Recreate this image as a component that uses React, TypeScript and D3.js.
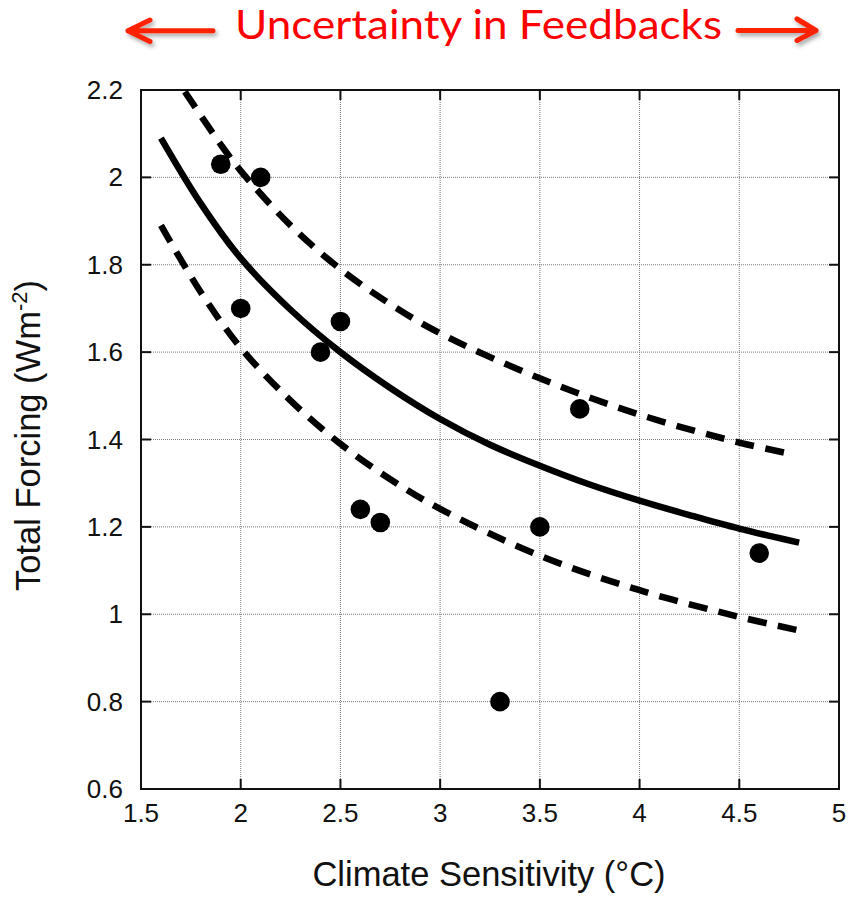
import { useEffect, useRef } from 'react'
import * as d3 from 'd3'

// axis ticks
const xTicks = [1.5, 2, 2.5, 3, 3.5, 4, 4.5, 5]
const yTicks = [0.6, 0.8, 1, 1.2, 1.4, 1.6, 1.8, 2, 2.2]

// model points (climate sensitivity vs total forcing)
const pointSens = [1.9, 2.0, 2.1, 2.4, 2.5, 2.6, 2.7, 3.3, 3.5, 3.7, 4.6]
const pointForcing = [2.03, 1.70, 2.00, 1.60, 1.67, 1.24, 1.21, 0.80, 1.20, 1.47, 1.14]

// central fit curve
const fitSens = [1.6, 1.8, 2.0, 2.25, 2.5, 2.75, 3.0, 3.25, 3.5, 3.75, 4.0, 4.25, 4.5, 4.8]
const fitForcing = [2.09, 1.94, 1.815, 1.697, 1.60, 1.518, 1.447, 1.388, 1.34, 1.297, 1.26, 1.227, 1.196, 1.164]

// upper bound (dashed)
const upperSens = [1.72, 1.9, 2.0, 2.25, 2.5, 2.75, 3.0, 3.5, 4.0, 4.5, 4.76]
const upperForcing = [2.196, 2.075, 2.015, 1.89, 1.79, 1.71, 1.643, 1.54, 1.457, 1.393, 1.367]

// lower bound (dashed)
const lowerSens = [1.6, 1.8, 2.0, 2.25, 2.5, 2.75, 3.0, 3.5, 4.0, 4.5, 4.79]
const lowerForcing = [1.89, 1.737, 1.61, 1.489, 1.39, 1.309, 1.241, 1.134, 1.055, 0.994, 0.964]

const W = 848
const H = 897
const FONT = '"Liberation Sans", Arial, Helvetica, sans-serif'

export default function App() {
  const svgRef = useRef<SVGSVGElement>(null)

  useEffect(() => {
    if (!svgRef.current) return
    const svg = d3.select(svgRef.current)
    svg.selectAll('*').remove()

    const left = 141, right = 839, top = 90, bottom = 789
    const x = d3.scaleLinear().domain([1.5, 5]).range([left, right])
    const y = d3.scaleLinear().domain([0.6, 2.2]).range([bottom, top])

    // shadow for the arrows
    const defs = svg.append('defs')
    const f = defs.append('filter').attr('id', 'shadow').attr('x', '-20%').attr('y', '-50%').attr('width', '140%').attr('height', '200%')
    f.append('feDropShadow').attr('dx', 2).attr('dy', 3).attr('stdDeviation', 2)
      .attr('flood-color', '#000').attr('flood-opacity', 0.35)

    // title + arrows
    svg.append('text')
      .attr('x', 235).attr('y', 38.5)
      .attr('textLength', 487).attr('lengthAdjust', 'spacingAndGlyphs')
      .attr('fill', '#ff0000')
      .attr('font-family', 'Lato, "Open Sans", sans-serif')
      .attr('font-size', 41)
      .text('Uncertainty in Feedbacks')

    const arrowG = svg.append('g')
      .attr('stroke', '#ff2200').attr('stroke-width', 5)
      .attr('stroke-linecap', 'round').attr('stroke-linejoin', 'round')
      .attr('fill', 'none').attr('filter', 'url(#shadow)')
    arrowG.append('path').attr('d', 'M213,30.7 L128,30.7 M150,20 L128,30.7 L150,41.5')
    arrowG.append('path').attr('d', 'M738,30.5 L816,30.5 M797,19 L816,30.5 L797,40.5')

    // grid
    const grid = svg.append('g')
      .attr('stroke', '#7a7a7a').attr('stroke-width', 1).attr('stroke-dasharray', '1,1')
    xTicks.slice(1, -1).forEach(t => {
      grid.append('line').attr('x1', x(t)).attr('x2', x(t)).attr('y1', top).attr('y2', bottom)
    })
    yTicks.slice(1, -1).forEach(t => {
      grid.append('line').attr('x1', left).attr('x2', right).attr('y1', y(t)).attr('y2', y(t))
    })

    // frame + inward ticks
    svg.append('rect')
      .attr('x', left).attr('y', top).attr('width', right - left).attr('height', bottom - top)
      .attr('fill', 'none').attr('stroke', '#111').attr('stroke-width', 2)
    const tk = svg.append('g').attr('stroke', '#111').attr('stroke-width', 2)
    xTicks.forEach(t => {
      tk.append('line').attr('x1', x(t)).attr('x2', x(t)).attr('y1', bottom).attr('y2', bottom - 10)
      tk.append('line').attr('x1', x(t)).attr('x2', x(t)).attr('y1', top).attr('y2', top + 10)
    })
    yTicks.forEach(t => {
      tk.append('line').attr('x1', left).attr('x2', left + 10).attr('y1', y(t)).attr('y2', y(t))
      tk.append('line').attr('x1', right).attr('x2', right - 10).attr('y1', y(t)).attr('y2', y(t))
    })

    // tick labels
    xTicks.forEach(t => {
      svg.append('text')
        .attr('x', x(t)).attr('y', 822)
        .attr('text-anchor', 'middle')
        .attr('font-family', FONT).attr('font-size', 26).attr('fill', '#111')
        .text(String(t))
    })
    yTicks.forEach(t => {
      svg.append('text')
        .attr('x', 123).attr('y', y(t) + 9)
        .attr('text-anchor', 'end')
        .attr('font-family', FONT).attr('font-size', 26).attr('fill', '#111')
        .text(String(t))
    })

    // axis titles
    svg.append('text')
      .attr('x', (left + right) / 2 - 1).attr('y', 886)
      .attr('text-anchor', 'middle')
      .attr('font-family', FONT).attr('font-size', 34.5).attr('fill', '#111')
      .text('Climate Sensitivity (°C)')

    const yt = svg.append('text')
      .attr('transform', `translate(40, ${(top + bottom) / 2 - 4}) rotate(-90)`)
      .attr('text-anchor', 'middle')
      .attr('font-family', FONT).attr('font-size', 34.5).attr('fill', '#111')
    yt.append('tspan').text('Total Forcing (Wm')
    yt.append('tspan').attr('font-size', 22).attr('dy', -13).text('-2')
    yt.append('tspan').attr('dy', 13).text(')')

    // curves
    const line = d3.line<[number, number]>()
      .x(d => x(d[0])).y(d => y(d[1]))
      .curve(d3.curveCatmullRom.alpha(0.5))

    const zip = (a: number[], b: number[]) => a.map((v, i) => [v, b[i]] as [number, number])

    svg.append('path')
      .attr('d', line(zip(upperSens, upperForcing)) as string)
      .attr('fill', 'none').attr('stroke', '#000').attr('stroke-width', 6.5)
      .attr('stroke-dasharray', '19,11.5')
    svg.append('path')
      .attr('d', line(zip(lowerSens, lowerForcing)) as string)
      .attr('fill', 'none').attr('stroke', '#000').attr('stroke-width', 6.5)
      .attr('stroke-dasharray', '19,11.5')
    svg.append('path')
      .attr('d', line(zip(fitSens, fitForcing)) as string)
      .attr('fill', 'none').attr('stroke', '#000').attr('stroke-width', 6.5)

    // points
    svg.append('g').selectAll('circle')
      .data(zip(pointSens, pointForcing))
      .join('circle')
      .attr('cx', d => x(d[0])).attr('cy', d => y(d[1]))
      .attr('r', 9.8).attr('fill', '#000')
  }, [])

  return (
    <svg
      ref={svgRef}
      width={W}
      height={H}
      style={{ position: 'absolute', left: 0, top: 0, background: '#fff' }}
    />
  )
}
